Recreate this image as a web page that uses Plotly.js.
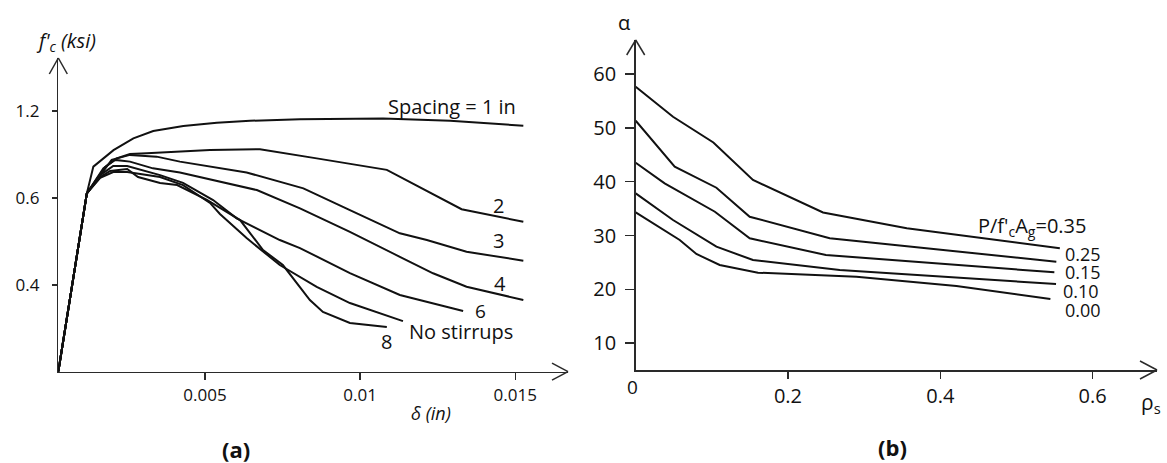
<!DOCTYPE html>
<html>
<head>
<meta charset="utf-8">
<script src="https://cdn.plot.ly/plotly-3.0.1.min.js"></script>
<style>html,body{margin:0;padding:0;background:#fff;}#chart{width:1167px;height:463px;}</style>
</head>
<body>
<div id="chart"></div>
<script>
// ---------- Panel (a): stress vs. displacement ----------
const deltaOrigin = 0.00027;
const s1X = [0.00027,0.00119,0.0014,0.00205,0.00269,0.00333,0.0043,0.00538,0.00645,0.00806,0.01074,0.0129,0.01526];
const s1Y = [0,0.821,0.944,1.02,1.074,1.108,1.131,1.146,1.155,1.162,1.166,1.155,1.132];
const s2X = [0.00027,0.00119,0.00172,0.00215,0.00258,0.00312,0.00516,0.00677,0.0086,0.01086,0.01327,0.01526];
const s2Y = [0,0.821,0.936,0.982,1.002,1.005,1.0205,1.024,0.982,0.929,0.748,0.690];
const s3X = [0.00027,0.00119,0.00199,0.00258,0.00344,0.00419,0.00634,0.00817,0.00967,0.01128,0.01215,0.01343,0.01526];
const s3Y = [0,0.821,0.975,0.998,0.99,0.967,0.917,0.844,0.744,0.637,0.606,0.552,0.511];
const s4X = [0.00027,0.00119,0.00178,0.0021,0.00258,0.00332,0.00419,0.00667,0.00806,0.00967,0.01128,0.01235,0.01343,0.01526];
const s4Y = [0,0.821,0.942,0.975,0.967,0.936,0.917,0.836,0.752,0.644,0.529,0.453,0.391,0.33];
const s6X = [0.00027,0.00119,0.00162,0.00204,0.00249,0.00355,0.00429,0.00526,0.00602,0.00645,0.00741,0.00806,0.00967,0.01128,0.01332];
const s6Y = [0,0.821,0.905,0.947,0.947,0.905,0.869,0.79,0.706,0.675,0.606,0.569,0.454,0.353,0.279];
const s8X = [0.00027,0.00119,0.00162,0.00194,0.00249,0.00284,0.00355,0.0041,0.00506,0.00613,0.00687,0.00751,0.00838,0.0088,0.00967,0.01086];
const s8Y = [0,0.821,0.896,0.924,0.933,0.896,0.869,0.859,0.791,0.698,0.56,0.491,0.33,0.275,0.224,0.206];
const nsX = [0.00027,0.00119,0.00162,0.00204,0.00249,0.00355,0.00429,0.00516,0.00548,0.00634,0.00741,0.0086,0.00967,0.01138];
const nsY = [0,0.821,0.892,0.919,0.919,0.896,0.859,0.777,0.726,0.615,0.491,0.39,0.316,0.233];
const aXTickVals = [0.005,0.01,0.015];
const aXTickText = ["0.005","0.01","0.015"];
const aYTickVals = [0.4,0.8,1.2];
const aYTickText = ["0.4","0.6","1.2"];
const aLabels = ["Spacing = 1 in","2","3","4","6","8","No stirrups"];

// ---------- Panel (b): alpha vs. rho_s ----------
const r35X = [0,0.049,0.102,0.154,0.246,0.356,0.557];
const r35Y = [57.66,52.08,47.29,40.32,34.28,31.34,27.62];
const r25X = [0,0.0512,0.106,0.1497,0.2548,0.5524];
const r25Y = [51.34,42.79,38.88,33.49,29.48,25.13];
const r15X = [0,0.038,0.104,0.1497,0.2498,0.5498];
const r15Y = [43.53,39.70,34.42,29.48,26.38,23.16];
const r10X = [0,0.049,0.106,0.154,0.268,0.552];
const r10Y = [37.84,32.88,27.92,25.45,23.59,20.99];
const r00X = [0,0.0578,0.0797,0.1103,0.1606,0.2899,0.4212,0.5446];
const r00Y = [34.31,29.16,26.56,24.52,23.09,22.34,20.61,18.20];
const bXTickVals = [0.2,0.4,0.6];
const bXTickText = ["0.2","0.4","0.6"];
const bYTickVals = [10,20,30,40,50,60];
const bYTickText = ["10","20","30","40","50","60"];
const bLabels = ["P/f'<sub>c</sub>A<sub>g</sub>=0.35","0.25","0.15","0.10","0.00"];

const W = 1167, H = 463;
const FONT = "Open Sans, Lato, sans-serif";
const INK = "#111";
const AXC = "#2a2a2a";

function line(x, y, xa, ya) {
  return {x: x, y: y, xaxis: xa, yaxis: ya, type: "scatter", mode: "lines",
          line: {color: INK, width: 2, shape: "linear"}, hoverinfo: "skip", showlegend: false};
}
const traces = [
  line(s1X, s1Y, "x", "y"), line(s2X, s2Y, "x", "y"), line(s3X, s3Y, "x", "y"),
  line(s4X, s4Y, "x", "y"), line(s6X, s6Y, "x", "y"), line(s8X, s8Y, "x", "y"),
  line(nsX, nsY, "x", "y"),
  line(r35X, r35Y, "x2", "y2"), line(r25X, r25Y, "x2", "y2"), line(r15X, r15Y, "x2", "y2"),
  line(r10X, r10Y, "x2", "y2"), line(r00X, r00Y, "x2", "y2")
];

// px helpers for annotation placement
function ann(px, py, text, size, extra) {
  return Object.assign({xref: "paper", yref: "paper", x: px / W, y: 1 - py / H,
    xanchor: "center", yanchor: "middle", showarrow: false, text: text,
    font: {family: FONT, size: size, color: INK}}, extra || {});
}

const aXRange = [deltaOrigin, 0.0167];
const aYRange = [0, 1.444];
const bXRange = [0, 0.6846];
const bYRange = [5, 66.34];
const aXDomain = [58.3 / W, 568 / W];
const aYDomain = [(H - 371.7) / H, (H - 58) / H];
const bXDomain = [635.7 / W, 1157 / W];
const bYDomain = [(H - 370) / H, (H - 40) / H];

const annotations = [
  ann(66, 42, "<i>f'<sub>c</sub> (ksi)</i>", 20),
  ann(431, 413, "<i>δ (in)</i>", 18),
  ann(236, 449, "<b>(a)</b>", 22),
  ann(892, 447, "<b>(b)</b>", 22),
  ann(624, 23, "α", 20),
  ann(1151, 403, "ρ<sub>s</sub>", 21),
  ann(632, 387, "0", 19),
  ann(452, 106, aLabels[0], 20),
  ann(498, 206, aLabels[1], 20),
  ann(498, 241, aLabels[2], 20),
  ann(500, 283, aLabels[3], 20),
  ann(480, 311, aLabels[4], 19),
  ann(386, 341, aLabels[5], 20),
  ann(461, 331, aLabels[6], 20),
  ann(1032, 226, bLabels[0], 20),
  ann(1083, 254, bLabels[1], 18),
  ann(1083, 272, bLabels[2], 18),
  ann(1081, 291, bLabels[3], 18),
  ann(1083, 310, bLabels[4], 18)
];

// open chevron arrowheads: two pixel-sized segments anchored (in paper space, unclipped) at the axis ends
function arm(xa, ya, dx, dy) {
  return {type: "line", xref: "paper", yref: "paper", xsizemode: "pixel", ysizemode: "pixel",
          xanchor: xa, yanchor: ya, x0: 0, y0: 0, x1: dx, y1: dy,
          line: {color: AXC, width: 1.5}};
}
const shapes = [
  arm(aXDomain[0], aYDomain[1], -9, -16),
  arm(aXDomain[0], aYDomain[1], 9, -16),
  arm(aXDomain[1], aYDomain[0], -16, 8.5),
  arm(aXDomain[1], aYDomain[0], -16, -8.5),
  arm(bXDomain[0], bYDomain[1], -9, -15),
  arm(bXDomain[0], bYDomain[1], 9, -15),
  arm(bXDomain[1], bYDomain[0], -17, 9),
  arm(bXDomain[1], bYDomain[0], -17, -9)
];

const axBase = {showgrid: false, zeroline: false, showline: true, linecolor: AXC, linewidth: 1.5,
  ticks: "outside", tickcolor: AXC, tickwidth: 1.5, fixedrange: true,
  tickfont: {family: FONT, color: INK}};

const layout = {
  width: W, height: H, margin: {l: 0, r: 0, t: 0, b: 0},
  paper_bgcolor: "#fff", plot_bgcolor: "rgba(0,0,0,0)", showlegend: false,
  font: {family: FONT, color: INK},
  xaxis: Object.assign({}, axBase, {domain: aXDomain, range: aXRange,
    tickmode: "array", tickvals: aXTickVals, ticktext: aXTickText, ticklen: 7,
    tickfont: {family: FONT, size: 17, color: INK}, anchor: "y"}),
  yaxis: Object.assign({}, axBase, {domain: aYDomain, range: aYRange,
    tickmode: "array", tickvals: aYTickVals, ticktext: aYTickText, ticklen: 5,
    ticklabelstandoff: 9,
    tickfont: {family: FONT, size: 17, color: INK}, anchor: "x"}),
  xaxis2: Object.assign({}, axBase, {domain: bXDomain, range: bXRange,
    tickmode: "array", tickvals: bXTickVals, ticktext: bXTickText, ticklen: 7,
    tickfont: {family: FONT, size: 20, color: INK}, anchor: "y2"}),
  yaxis2: Object.assign({}, axBase, {domain: bYDomain, range: bYRange,
    tickmode: "array", tickvals: bYTickVals, ticktext: bYTickText, ticklen: 9,
    ticklabelstandoff: 5,
    tickfont: {family: FONT, size: 20, color: INK}, anchor: "x2"}),
  annotations: annotations,
  shapes: shapes
};

Plotly.newPlot("chart", traces, layout, {staticPlot: true, displayModeBar: false});
</script>
</body>
</html>
